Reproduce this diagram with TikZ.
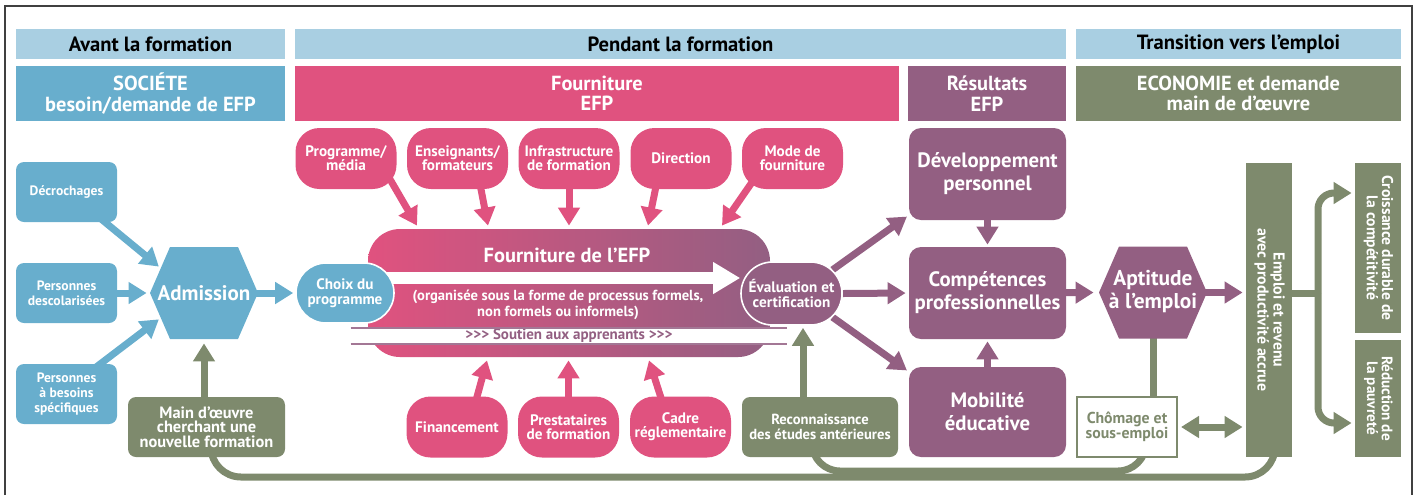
\documentclass[tikz,border=0pt]{standalone}
\usepackage{fontspec}
\setmainfont{PT Sans}
\usepackage{graphicx}
\usetikzlibrary{arrows.meta,shapes.misc,shapes.symbols,backgrounds}

\definecolor{phaseblue}{HTML}{A9CFE2}
\definecolor{socblue}{HTML}{68AECD}
\definecolor{efppink}{HTML}{E0527F}
\definecolor{respurple}{HTML}{935F82}
\definecolor{ecogreen}{HTML}{7E8A6D}

\tikzset{
  outerframe/.style={draw=black!75, line width=0.9pt},
  phase/.style={fill=phaseblue, inner sep=0pt, minimum height=15pt, font=\bfseries\fontsize{10.3}{11}\selectfont},
  sector/.style={text=white, inner sep=0pt, minimum height=27.5pt, align=center, font=\bfseries\fontsize{10.2}{10.2}\selectfont},
  sidebox/.style={fill=socblue, rounded corners=4pt, minimum width=50.5pt, minimum height=30pt, inner sep=0pt, text=white, align=center, font=\bfseries\fontsize{6.8}{7.4}\selectfont},
  hexa/.style={signal, signal to=west and east, signal pointer angle=133, minimum width=54pt, minimum height=46pt, inner sep=0pt, text=white, align=center, font=\bfseries\fontsize{10.5}{11.5}\selectfont},
  bubble/.style={fill=efppink, rounded corners=12pt, minimum width=50.5pt, minimum height=30.5pt, inner sep=0pt, text=white, align=center, font=\bfseries\fontsize{7.6}{7.1}\selectfont},
  pill/.style={rounded rectangle, draw=white, line width=0.8pt, inner sep=0pt, text=white, align=center, font=\bfseries\fontsize{7.6}{7.6}\selectfont},
  outcome/.style={fill=respurple, rounded corners=6pt, minimum width=78.5pt, minimum height=46pt, inner sep=0pt, text=white, align=center, font=\bfseries\fontsize{10.4}{11.5}\selectfont},
  ecobox/.style={fill=ecogreen, rounded corners=4pt, minimum height=30pt, inner sep=0pt, text=white, align=center, font=\bfseries\fontsize{7.3}{7.4}\selectfont},
  ecobar/.style={fill=ecogreen, inner sep=0pt, minimum width=23pt, text=white, font=\bfseries\fontsize{7.9}{7.5}\selectfont},
  bandbox/.style={left color=efppink, right color=respurple, rounded corners=16pt, minimum width=201pt, minimum height=64pt, inner sep=0pt},
  bandtext/.style={text=white, inner sep=0pt, align=center},
  soutien/.style={fill=white, minimum width=218pt, minimum height=8pt, inner sep=0pt, text=respurple, font=\bfseries\fontsize{7.5}{7.5}\selectfont},
  stripline/.style={draw=respurple!85, line width=1pt},
  bandarrow/.style={white, line width=6pt, -{Triangle[length=13.5pt,width=15pt]}},
  bluearrow/.style={socblue, line width=3.5pt, -{Triangle[length=9pt,width=10.5pt]}},
  pinkarrow/.style={efppink, line width=3.5pt, -{Triangle[length=9pt,width=10.5pt]}},
  purplearrow/.style={respurple, line width=3.5pt, -{Triangle[length=9pt,width=10.5pt]}},
  greenarrow/.style={ecogreen, line width=3.5pt, -{Triangle[length=9pt,width=10.5pt]}},
  greenboth/.style={ecogreen, line width=3.5pt, {Triangle[length=9pt,width=10.5pt]}-{Triangle[length=9pt,width=10.5pt]}},
  greenline/.style={ecogreen, line width=3.5pt}
}

\begin{document}
\begin{tikzpicture}[x=0.5pt, y=-0.5pt]
\useasboundingbox (0,0) rectangle (1415,495);
\draw [outerframe] (5,495) -- (5,6) -- (1412,6) -- (1412,495);

% phases and sectors
\node (avant) [phase, minimum width=134.5pt] at (150.5,44) {Avant la formation};
\node (pendant) [phase, minimum width=385.5pt] at (680.5,44) {Pendant la formation};
\node (transition) [phase, minimum width=162.5pt] at (1238.5,44) {Transition vers l’emploi};
\node (societe) [sector, fill=socblue, minimum width=134.5pt] at (150.5,93.5) {SOCIÉTE\\besoin/demande de EFP};
\node (fourniture) [sector, fill=efppink, minimum width=302pt] at (597,93.5) {Fourniture\\EFP};
\node (resultats) [sector, fill=respurple, minimum width=79pt] at (987,93.5) {Résultats\\EFP};
\node (economie) [sector, fill=ecogreen, minimum width=162.5pt] at (1238.5,93.5) {ECONOMIE et demande\\main de d’œuvre};

% before training
\node (decro) [sidebox] at (66.5,192) {Décrochages};
\node (descol) [sidebox] at (66.5,293) {Personnes\\descolarisées};
\node (besoins) [sidebox] at (66.5,394) {Personnes\\à besoins\\spécifiques};
\node (admission) [hexa, fill=socblue] at (204,293) {\makebox[0pt]{Admission}};
\node (mainoeuvre) [ecobox, minimum width=78.5pt, font=\bfseries\fontsize{8.2}{7.3}\selectfont] at (206.5,427) {Main d’œuvre\\cherchant une\\nouvelle formation};

% provision
\node (choix) [pill, fill=socblue, minimum width=49pt, minimum height=30pt] at (345,293) {Choix du\\programme};
\node (eval) [pill, fill=respurple, minimum width=50.5pt, minimum height=31.5pt] at (791.5,293.5) {Évaluation et\\certification};
\node (prog) [bubble] at (346,158.5) {Programme/\\média};
\node (ens) [bubble] at (457.5,158.5) {Enseignants/\\formateurs};
\node (infra) [bubble] at (569,158.5) {Infrastructure\\de formation};
\node (dir) [bubble] at (681,158.5) {Direction};
\node (mode) [bubble] at (792.5,158.5) {Mode de\\fourniture};
\node (fin) [bubble] at (457,427) {Financement};
\node (prest) [bubble] at (568.5,427) {Prestataires\\de formation};
\node (cadre) [bubble] at (680.5,427) {Cadre\\réglementaire};
\node (reco) [ecobox, minimum width=78pt] at (820,427) {Reconnaissance\\des études antérieures};

% outcomes
\node (dev) [outcome] at (987.5,174) {Développement\\personnel};
\node (comp) [outcome] at (987.5,293) {Compétences\\professionnelles};
\node (mob) [outcome, minimum height=45pt] at (987.5,412) {Mobilité\\éducative};

% transition to work
\node (aptitude) [hexa, fill=respurple, font=\bfseries\fontsize{10.7}{11.5}\selectfont] at (1153,292.5) {\makebox[0pt]{\begin{tabular}{@{}c@{}}Aptitude\\à l’emploi\end{tabular}}};
\node (chomage) [ecobox, fill=white, draw=ecogreen, line width=1pt, rounded corners=0pt, text=ecogreen, minimum width=50pt, font=\bfseries\fontsize{7.9}{7.5}\selectfont] at (1127,427) {Chômage et\\sous-emploi};
\node (emploi) [ecobar, minimum height=147pt] at (1269,310) {\rotatebox{-90}{\begin{tabular}{@{}c@{}}Emploi et revenu\\avec productivité accrue\end{tabular}}};
\node (croissance) [ecobar, minimum height=85pt, font=\bfseries\fontsize{7.8}{6.6}\selectfont] at (1378,248) {\rotatebox{-90}{\begin{tabular}{@{}c@{}}Croissance durable de\\la compétitivité\end{tabular}}};
\node (reduction) [ecobar, minimum height=58.5pt, font=\bfseries\fontsize{7.6}{6.6}\selectfont] at (1378,398.5) {\rotatebox{-90}{\begin{tabular}{@{}c@{}}Réduction de\\la pauvreté\end{tabular}}};

\coordinate (branch) at (1318,293);
\coordinate (track) at (0,477);
\coordinate (utrack) at (0,471);

\begin{scope}[on background layer]
\node (band) [bandbox] at (569,293) {};
\node (bandtitle) [bandtext, font=\bfseries\fontsize{10.2}{11}\selectfont] at (567,255) {Fourniture de l’EFP};
\node (bandsub) [bandtext, font=\bfseries\fontsize{7.3}{6.6}\selectfont] at (558,305) {(organisée sous la forme de processus formels,\\non formels ou informels)};
\node (soutien) [soutien] at (569,336) {>{}>{}> Soutien aux apprenants >{}>{}>};
\draw [stripline] (soutien.north west) -- (soutien.north east);
\draw [stripline] (soutien.south west) -- (soutien.south east);
\draw [bandarrow] ([yshift=7.5pt]choix.center) -- ([yshift=7.5pt]choix.center -| eval.west);

% into admission
\draw [bluearrow, shorten >=1pt] ([xshift=-8.5pt,yshift=2pt]decro.south east) -- (admission.150);
\draw [bluearrow, shorten >=1.5pt] (descol.center) -- (admission.west);
\draw [bluearrow, shorten >=1pt] ([xshift=-11pt,yshift=-2pt]besoins.north east) -- (admission.210);
\draw [bluearrow, shorten >=1pt] (admission.center) -- (choix.west);
\draw [greenarrow, shorten >=2pt] (mainoeuvre.center -| admission.south) -- (admission.south);

% inputs to provision
\draw [pinkarrow] ([xshift=-4pt,yshift=6pt]prog.south east) -- ([xshift=-76pt,yshift=1.5pt]band.north);
\draw [pinkarrow] ([xshift=11pt,yshift=4pt]ens.south) -- ([xshift=-40.5pt,yshift=1.5pt]band.north);
\draw [pinkarrow] (infra.center) -- ([yshift=1.5pt]band.north);
\draw [pinkarrow] ([xshift=-12pt,yshift=4pt]dir.south) -- ([xshift=39.5pt,yshift=1.5pt]band.north);
\draw [pinkarrow] ([xshift=5.5pt,yshift=4pt]mode.south west) -- ([xshift=76.5pt,yshift=1.5pt]band.north);
\draw [pinkarrow] ([xshift=9pt,yshift=-4pt]fin.north) -- ([xshift=-41pt,yshift=-1.5pt]band.south);
\draw [pinkarrow, shorten >=1.5pt] (prest.center) -- (prest.center |- band.south);
\draw [pinkarrow] ([xshift=-8.75pt,yshift=-4pt]cadre.north) -- ([xshift=40pt,yshift=-1.5pt]band.south);
\draw [greenarrow, shorten >=1pt] ([xshift=-8.5pt]reco.center) -- ([xshift=5.75pt]eval.south);

% results
\draw [purplearrow, shorten >=1pt] (eval.30) -- ([yshift=2.5pt]dev.south west);
\draw [purplearrow, shorten >=1.5pt] (eval.east) -- (comp.west);
\draw [purplearrow, shorten >=1pt] (eval.-30) -- ([yshift=-2.5pt]mob.north west);
\draw [purplearrow, shorten >=1pt] (dev.center) -- (comp.north);
\draw [purplearrow, shorten >=1pt] (mob.center) -- (comp.south);
\draw [purplearrow, shorten >=2.5pt] (comp.center) -- (aptitude.west);
\draw [purplearrow, shorten >=1.5pt] (aptitude.center) -- (aptitude.center -| emploi.west);

% labour market
\draw [greenline] (aptitude.center) -- (aptitude.center |- chomage.north);
\draw [greenboth, shorten <=1.5pt, shorten >=1.5pt] (chomage.east) -- (chomage.east -| emploi.west);
\draw [greenline] (branch -| emploi.center) -- (branch);
\draw [greenarrow, rounded corners=8pt, shorten >=1.5pt] (branch) |- ([yshift=27.5pt]croissance.west);
\draw [greenarrow, rounded corners=8pt, shorten >=1.5pt] (branch) |- ([yshift=-12.25pt]reduction.west);
\draw [greenline, rounded corners=15pt] ([xshift=3pt]emploi.center) |- ([xshift=2.25pt]mainoeuvre.center |- track) -- ([xshift=2.25pt]mainoeuvre.center);
\draw [greenline, rounded corners=14pt] ([xshift=-4pt]reco.center) |- ([xshift=9.5pt]chomage.center |- utrack) -- ([xshift=9.5pt]chomage.center);
\end{scope}
\end{tikzpicture}
\end{document}
